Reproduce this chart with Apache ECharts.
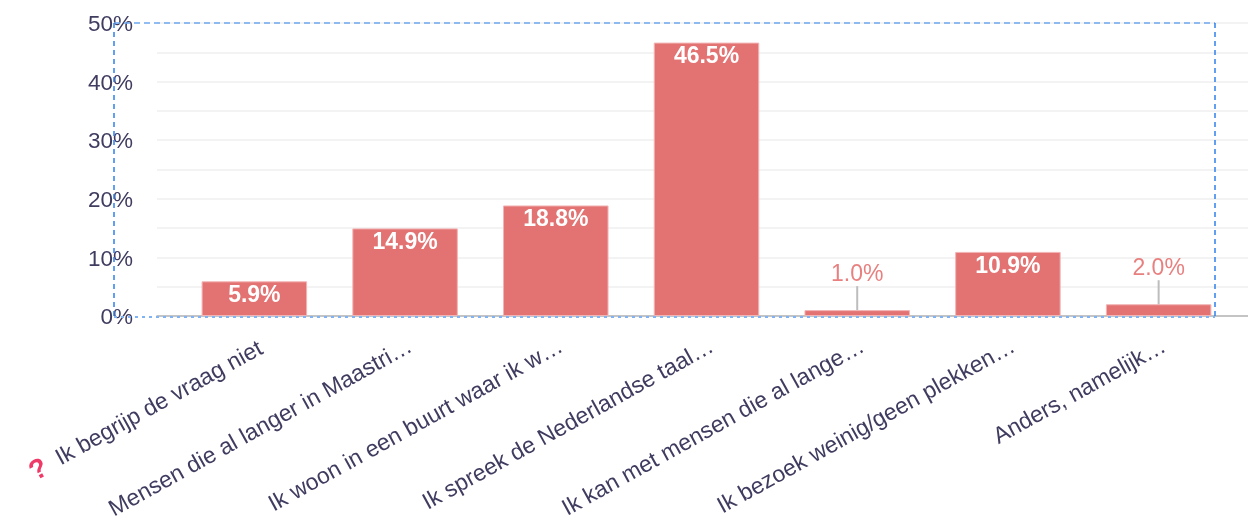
<!DOCTYPE html>
<html>
<head>
<meta charset="utf-8">
<script src="https://cdn.jsdelivr.net/npm/echarts@6/dist/echarts.min.js"></script>
<style>
    html, body { margin: 0; padding: 0; background: #fff; }
    #chart { width: 1248px; height: 522px; filter: blur(0.6px); }
</style>
</head>
<body>
<div id="chart"></div>
<script>
const categories = [
    'Ik begrijp de vraag niet',
    'Mensen die al langer in Maastri…',
    'Ik woon in een buurt waar ik w…',
    'Ik spreek de Nederlandse taal…',
    'Ik kan met mensen die al lange…',
    'Ik bezoek weinig/geen plekken…',
    'Anders, namelijk…'
];
const values = [5.9, 14.9, 18.8, 46.5, 1.0, 10.9, 2.0];
// small bars get their label outside with a leader line
const outsideLift = { 4: 20, 5: 0, 6: 20 };

const chart = echarts.init(document.getElementById('chart'), null, { renderer: 'canvas' });
const font = '"Liberation Sans", Arial, sans-serif';
const textColor = '#3f3c60';

chart.setOption({
    animation: false,
    grid: [
        { left: 157, right: 0, top: 23, height: 293, outerBoundsMode: 'none' },
        { left: 179, width: 1055, top: 22, height: 294, outerBoundsMode: 'none' }
    ],
    xAxis: [
        {
            gridIndex: 0, type: 'value', min: 0, max: 1,
            axisLine: { show: true, onZero: false, lineStyle: { color: '#b5b5b5', width: 1.5 } },
            axisTick: { show: false }, axisLabel: { show: false }, splitLine: { show: false }
        },
        {
            gridIndex: 1, type: 'category', data: categories,
            axisLine: { show: false }, axisTick: { show: false },
            axisLabel: {
                interval: 0, rotate: 29, margin: 19, verticalAlign: 'top',
                color: textColor, fontFamily: font, fontSize: 23,
                formatter: (v, i) => i === 0 ? '{q|?}  ' + v : v,
                rich: { q: { color: '#ef3a68', fontWeight: 'bold', fontSize: 28, fontFamily: font } }
            }
        }
    ],
    yAxis: [
        {
            gridIndex: 0, type: 'value', min: 0, max: 50, interval: 5,
            axisLine: { show: false }, axisTick: { show: false },
            axisLabel: {
                margin: 24, color: textColor, fontFamily: font, fontSize: 22.5,
                formatter: v => v % 10 === 0 ? '{t|' + v + '%}' : '',
                rich: { t: { color: textColor, fontFamily: font, fontSize: 22.5, padding: [4, 0, 0, 0] } }
            },
            splitLine: { lineStyle: { color: '#efefef', width: 1.5 } }
        },
        {
            gridIndex: 1, type: 'value', min: 0, max: 50, interval: 10,
            axisLine: { show: false }, axisTick: { show: false },
            axisLabel: { show: false }, splitLine: { show: false }
        }
    ],
    series: [{
        type: 'bar',
        xAxisIndex: 1,
        yAxisIndex: 1,
        barWidth: '70%',
        data: values.map((v, i) => ({
            value: v,
            label: outsideLift[i]
                ? { position: 'top', distance: 4, color: '#e88080', fontWeight: 'normal' }
                : { position: 'insideTop', distance: 3, color: '#fff', fontWeight: 'bold' },
            labelLine: { show: !!outsideLift[i] }
        })),
        itemStyle: { color: '#e37272', borderColor: '#f3b5b5', borderWidth: 1 },
        label: {
            show: true, fontFamily: font, fontSize: 23,
            formatter: p => p.value.toFixed(1) + '%'
        },
        labelLine: { lineStyle: { color: '#bdbdbd', width: 2 } },
        labelLayout: p => outsideLift[p.dataIndex] ? { dy: -outsideLift[p.dataIndex] } : {}
    }],
    graphic: [
        { type: 'line', z: 50, shape: { x1: 114, y1: 23, x2: 1215, y2: 23 }, style: { stroke: '#6ea8ef', lineWidth: 1.5, lineDash: [6, 4] } },
        { type: 'line', z: 50, shape: { x1: 114, y1: 317, x2: 1215, y2: 317 }, style: { stroke: '#7fb3f5', lineWidth: 2, lineDash: [3, 4] } },
        { type: 'line', z: 50, shape: { x1: 114, y1: 23, x2: 114, y2: 317 }, style: { stroke: '#2f80ed', lineWidth: 1.5, lineDash: [5, 4] } },
        { type: 'line', z: 50, shape: { x1: 1215, y1: 23, x2: 1215, y2: 317 }, style: { stroke: '#2f80ed', lineWidth: 1.5, lineDash: [5, 4] } }
    ]
});
</script>
</body>
</html>
